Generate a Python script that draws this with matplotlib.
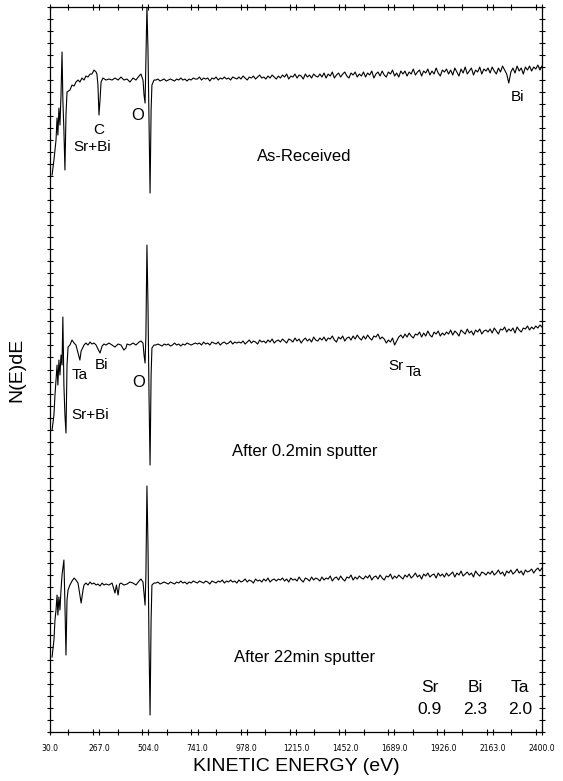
import numpy as np
import matplotlib
matplotlib.use("Agg")
import matplotlib.pyplot as plt
from matplotlib.ticker import MultipleLocator

# === DATA (N(E)dE in arbitrary units, each trace relative to its own baseline) ===
# low-energy region, read point by point
E_LOW_TOP = [40, 49, 54, 59, 64, 68, 73, 78, 83, 88, 92, 97, 102, 107, 112, 126, 136,
             146, 155, 165, 174, 184, 194, 203, 213, 223, 232, 242, 252, 256, 261, 266,
             271, 276, 285, 300, 314, 329, 343, 358, 372, 386, 401, 415, 430, 444, 459,
             468, 478, 483, 488, 492, 497, 502, 507, 512, 517, 521, 531]
V_LOW_TOP = [-95, -80, -70, -60, -38, -55, -28, -45, -15, 28, -20, -50, -90, -35, -12, -10, -5,
             -6, -2, 0, -2, 2, 0, 4, 3, 6, 6, 10, 8, 6, -5, -35,
             -20, -2, 2, 0, 1, 0, 2, 0, 3, 0, 1, -2, 2, 0, 4,
             6, 0, -15, -23, 20, 73, 30, -40, -113, -30, -5, 0]

E_LOW_MID = [40, 49, 54, 59, 64, 68, 73, 78, 83, 88, 92, 97, 102, 107, 112, 117, 126,
             136, 146, 155, 165, 174, 180, 194, 203, 213, 223, 232, 242, 252, 261, 271,
             281, 290, 300, 314, 329, 343, 358, 372, 386, 396, 401, 415, 430, 444, 459,
             468, 478, 483, 488, 492, 497, 502, 507, 512, 517, 521, 531]
V_LOW_MID = [-85, -70, -50, -35, -20, -40, -15, -30, -10, -20, 28, -40, -70, -88, -20, -2, 0,
             5, 2, 0, -8, -15, -6, 0, 2, 0, 3, 1, 2, 0, -4, -8,
             -1, 1, 0, 2, 0, -2, 1, 0, -5, -3, 1, 0, 2, 0, 3,
             4, 2, -10, -18, 10, 100, 40, -50, -120, -30, -3, 0]

E_LOW_BOT = [40, 49, 54, 59, 64, 68, 73, 78, 83, 88, 97, 102, 107, 112, 117, 126, 136,
             146, 155, 165, 174, 180, 189, 194, 203, 213, 223, 232, 242, 252, 261, 271,
             281, 290, 300, 314, 329, 343, 350, 358, 365, 372, 386, 401, 415, 430, 444,
             459, 468, 478, 483, 488, 492, 497, 502, 507, 512, 517, 521, 531]
V_LOW_BOT = [-72, -55, -35, -25, -10, -30, -12, -25, -5, 10, 25, -20, -70, -15, -5, 0, 4,
             7, 5, 2, -10, -18, -5, 0, 2, 0, 3, 1, 2, 0, 1, -1,
             2, 0, 1, 0, 2, -8, 0, -10, 1, 2, 0, 1, 3, 2, 0,
             4, 6, 3, -8, -20, 10, 99, 40, -60, -130, -35, 0, 2]

# high-energy region, sampled every 10 eV from 540 to 2400 eV
E_HIGH_START, E_HIGH_STEP = 540, 10
V_HIGH_TOP = [0, 1, -1, 0, 1, -1, 0, 1, 0, -1, 1, 0, 2, 0, 1, -1, 1, 0, 2, 1,
              1, 3, 0, 2, 1, 2, -1, 2, 1, 3, 0, 2, 1, 3, 1, 2, 0, 3, 2, 1,
              3, 1, 4, 2, 0, 3, 2, 4, 1, 3, 5, 2, 3, 1, 4, 2, 5, 3, 1, 4,
              2, 5, 3, 6, 1, 4, 3, 6, 2, 5, 4, 1, 6, 3, 5, 2, 6, 4, 3, 6,
              3, 7, 2, 6, 4, 8, 2, 5, 7, 3, 6, 8, 4, 2, 7, 5, 8, 3, 6, 4,
              8, 3, 7, 5, 9, 2, 6, 8, 4, 9, 5, 3, 8, 6, 10, 4, 7, 3, 9, 6,
              9, 4, 8, 6, 11, 5, 8, 10, 4, 9, 7, 11, 5, 9, 6, 12, 7, 4, 10, 8,
              11, 6, 10, 5, 12, 8, 4, 11, 7, 13, 6, 9, 12, 5, 10, 8, 13, 6, 11, 9,
              12, 7, 13, 9, 6, 12, 8, 14, 10, 6, -3, 8, 12, 7, 14, 9, 12, 6, 13, 10,
              14, 9, 13, 11, 15, 10, 14]
V_HIGH_MID = [0, 1, 0, -1, 1, 0, 1, -1, 0, 2, 0, 1, -1, 1, 0, 2, 1, 0, 1, 2,
              1, 2, 0, 3, 1, 2, 0, 3, 2, 1, 3, 0, 2, 3, 1, 2, 4, 1, 3, 2,
              3, 2, 4, 1, 3, 5, 2, 4, 3, 1, 5, 3, 4, 2, 5, 3, 6, 2, 4, 5,
              3, 6, 4, 2, 6, 5, 3, 7, 4, 6, 2, 5, 7, 4, 6, 3, 8, 5, 4, 7,
              5, 8, 4, 7, 6, 9, 5, 3, 8, 6, 9, 4, 7, 8, 5, 9, 6, 10, 7, 5,
              9, 6, 10, 7, 5, 9, 8, 11, 6, 8, 6, 2, 5, 3, 7, 0, 4, 8, 10, 7,
              11, 8, 12, 9, 7, 11, 10, 13, 8, 12, 9, 14, 10, 8, 13, 11, 14, 9, 12, 10,
              13, 11, 15, 10, 14, 12, 9, 15, 13, 11, 16, 12, 14, 10, 15, 13, 16, 11, 14, 15,
              13, 16, 12, 17, 14, 11, 16, 15, 18, 13, 16, 14, 17, 12, 18, 15, 13, 17, 16, 19,
              15, 18, 16, 19, 17, 20, 18]
V_HIGH_BOT = [2, 3, 1, 2, 3, 2, 1, 3, 2, 1, 3, 2, 4, 2, 3, 1, 3, 2, 4, 3,
              2, 4, 3, 2, 4, 3, 1, 4, 3, 2, 4, 3, 5, 2, 4, 3, 5, 3, 4, 2,
              5, 3, 4, 6, 3, 5, 4, 2, 6, 4, 5, 3, 6, 4, 7, 3, 5, 6, 4, 6,
              5, 7, 4, 6, 3, 7, 5, 6, 4, 8, 5, 3, 7, 6, 4, 8, 5, 7, 6, 4,
              8, 5, 7, 6, 9, 4, 7, 8, 5, 9, 6, 4, 8, 7, 10, 5, 8, 6, 9, 7,
              6, 9, 7, 10, 5, 8, 9, 6, 10, 7, 5, 9, 8, 11, 6, 9, 7, 10, 8, 6,
              10, 8, 11, 7, 9, 12, 8, 10, 6, 11, 9, 12, 8, 10, 11, 7, 12, 9, 11, 8,
              12, 9, 11, 13, 8, 12, 10, 14, 9, 11, 13, 10, 12, 8, 14, 11, 9, 13, 12, 10,
              13, 11, 14, 10, 12, 15, 11, 13, 9, 14, 12, 15, 11, 13, 16, 12, 14, 10, 15, 13,
              14, 16, 12, 15, 17, 14, 17]

TRACE_NAMES = ["As-Received", "After 0.2min sputter", "After 22min sputter"]
X_TICKS = [30.0, 267.0, 504.0, 741.0, 978.0, 1215.0, 1452.0, 1689.0, 1926.0, 2163.0, 2400.0]
RATIO_ELEMENTS = ["Sr", "Bi", "Ta"]
RATIO_VALUES = ["0.9", "2.3", "2.0"]

# === LAYOUT ===
OFFSETS = [652, 387, 147]      # vertical stacking of the traces
Y_MAX = 725
LABEL_FONT = "Liberation Sans"

e_high = E_HIGH_START + E_HIGH_STEP * np.arange(len(V_HIGH_TOP))
traces = [
    (E_LOW_TOP, V_LOW_TOP, V_HIGH_TOP),
    (E_LOW_MID, V_LOW_MID, V_HIGH_MID),
    (E_LOW_BOT, V_LOW_BOT, V_HIGH_BOT),
]

fig = plt.figure(figsize=(5.63, 7.81), dpi=100)
ax = fig.add_axes([0.0888, 0.0627, 0.8739, 0.9283])

for (e_low, v_low, v_high), off in zip(traces, OFFSETS):
    e = np.concatenate([e_low, e_high])
    v = np.concatenate([v_low, v_high]) + off
    ax.plot(e, v, color="black", lw=0.8)

ax.set_xlim(30, 2400)
ax.set_ylim(0, Y_MAX)
ax.set_xticks(X_TICKS)
ax.set_xticklabels([f"{t:.1f}" for t in X_TICKS], fontsize=5.5, family="DejaVu Sans")
ax.xaxis.set_minor_locator(MultipleLocator(118.5))
ax.set_yticks(np.linspace(0, Y_MAX, 61))
ax.set_yticklabels([])
ax.tick_params(axis="both", which="both", direction="inout", top=True, right=True,
               length=5, width=0.8, pad=6)
ax.tick_params(axis="y", length=4)
for sp in ax.spines.values():
    sp.set_linewidth(0.9)

ax.set_xlabel("KINETIC ENERGY (eV)", fontsize=14, family=LABEL_FONT, labelpad=4)
ax.set_ylabel("N(E)dE", fontsize=14, family=LABEL_FONT, labelpad=10)

txt = dict(family=LABEL_FONT, ha="center", va="center", color="black")
# element markers
ax.text(2280, 635, "Bi", fontsize=11, **txt)
ax.text(266, 602, "C", fontsize=11, **txt)
ax.text(232, 585, "Sr+Bi", fontsize=11, **txt)
ax.text(454, 617, "O", fontsize=12, **txt)
ax.text(280, 367, "Bi", fontsize=11, **txt)
ax.text(175, 357, "Ta", fontsize=11, **txt)
ax.text(459, 350, "O", fontsize=12, **txt)
ax.text(223, 317, "Sr+Bi", fontsize=11, **txt)
ax.text(1697, 366, "Sr", fontsize=11, **txt)
ax.text(1783, 360, "Ta", fontsize=11, **txt)

# trace captions
for name, y in zip(TRACE_NAMES, [576, 281, 75]):
    ax.text(1255, y, name, fontsize=12, **txt)

# composition ratios
for el, val, x in zip(RATIO_ELEMENTS, RATIO_VALUES, [1860, 2077, 2294]):
    ax.text(x, 45, el, fontsize=12.5, **txt)
    ax.text(x, 23, val, fontsize=12.5, **txt)

fig.savefig("out.png", dpi=100)
